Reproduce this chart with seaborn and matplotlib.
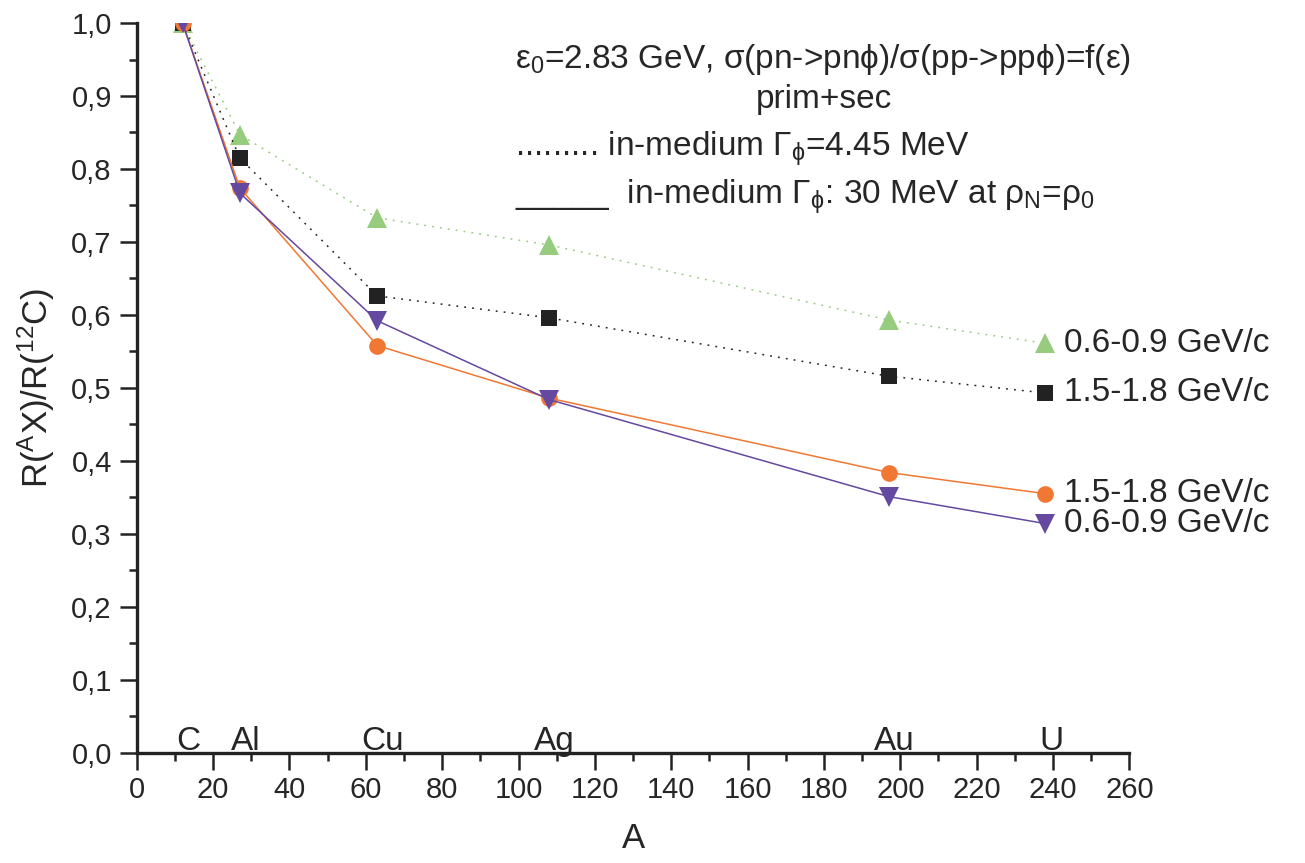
import numpy as np
import pandas as pd
import matplotlib
matplotlib.use("Agg")
import matplotlib.pyplot as plt
from matplotlib.ticker import MultipleLocator, FuncFormatter
import seaborn as sns

sns.set_style("ticks")
plt.rcParams['font.family'] = ['Liberation Sans', 'DejaVu Sans']
plt.rcParams['mathtext.fontset'] = 'custom'
plt.rcParams['mathtext.rm'] = 'Liberation Sans'
plt.rcParams['mathtext.it'] = 'Liberation Sans'
plt.rcParams['mathtext.default'] = 'regular'

# mass number of target nuclei
A = [12, 27, 63, 108, 197, 238]
elements = ["C", "Al", "Cu", "Ag", "Au", "U"]

# R(AX)/R(12C)
green_06_09_dot = [1.0, 0.847, 0.733, 0.696, 0.593, 0.561]
black_15_18_dot = [1.0, 0.815, 0.626, 0.596, 0.516, 0.493]
orange_15_18_sol = [1.0, 0.774, 0.558, 0.486, 0.384, 0.355]
purple_06_09_sol = [1.0, 0.767, 0.592, 0.484, 0.351, 0.314]

series = [
    ("0.6-0.9 GeV/c", green_06_09_dot, "#97cc7f", "^", (0, (1.2, 4)), 14),
    ("1.5-1.8 GeV/c", black_15_18_dot, "#222222", "s", (0, (1.2, 4)), 11),
    ("1.5-1.8 GeV/c", orange_15_18_sol, "#f07833", "o", "-", 12),
    ("0.6-0.9 GeV/c", purple_06_09_sol, "#6548a0", "v", "-", 14),
]

fig = plt.figure(figsize=(13.05, 8.63), dpi=100)
ax = fig.add_axes([0.1048, 0.1278, 0.7606, 0.8455])

for label, vals, col, mk, ls, ms in series:
    df = pd.DataFrame({"A": A, "R": vals})
    sns.lineplot(data=df, x="A", y="R", ax=ax, color=col, marker=mk,
                 markersize=ms, markeredgewidth=0, linestyle=ls, linewidth=1.1)
    ax.text(A[-1] + 5, vals[-1], label, fontsize=24, va="center", ha="left")

for el, a in zip(elements, A):
    ax.text(a + 1.5, 0.004, el, fontsize=24, ha="center", va="baseline")

ax.set_xlim(0, 260)
ax.set_ylim(0, 1.0)
ax.xaxis.set_major_locator(MultipleLocator(20))
ax.xaxis.set_minor_locator(MultipleLocator(10))
ax.yaxis.set_major_locator(MultipleLocator(0.1))
ax.yaxis.set_minor_locator(MultipleLocator(0.05))
ax.yaxis.set_major_formatter(FuncFormatter(lambda v, p: f"{v:.1f}".replace(".", ",")))
ax.tick_params(which="both", bottom=True, left=True, top=False, right=False)
ax.tick_params(which="major", direction="out", length=12, width=1.8, labelsize=21, color="#222222", pad=6)
ax.tick_params(which="minor", direction="out", length=6, width=1.8, color="#222222")
ax.tick_params(axis="x", which="major", pad=5)

sns.despine(ax=ax)
for s in ["left", "bottom"]:
    ax.spines[s].set_linewidth(2.4)
    ax.spines[s].set_color("#222222")

ax.set_xlabel("A", fontsize=25, labelpad=13)
ax.set_ylabel(r"R($^{A}$X)/R($^{12}$C)", fontsize=25, labelpad=10)

ax.text(99, 0.938, r"ε$_0$=2.83 GeV, σ(pn->pn$\phi$)/σ(pp->pp$\phi$)=f(ε)", fontsize=24, ha="left", va="baseline")
ax.text(180, 0.884, "prim+sec", fontsize=24, ha="center", va="baseline")
ax.text(99, 0.818, r"......... in-medium Γ$_{\phi}$=4.45 MeV", fontsize=24, ha="left", va="baseline")
ax.text(99, 0.752, r"_____  in-medium Γ$_{\phi}$: 30 MeV at ρ$_N$=ρ$_0$", fontsize=24, ha="left", va="baseline")

fig.savefig("out.png", dpi=100)
